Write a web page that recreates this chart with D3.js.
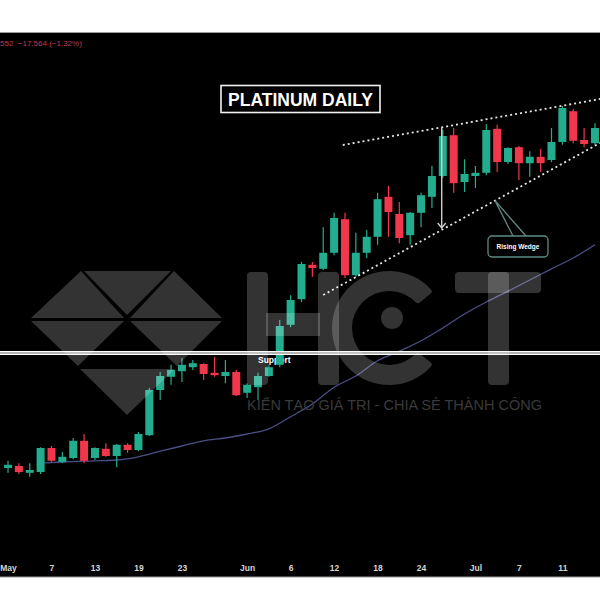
<!DOCTYPE html>
<html><head><meta charset="utf-8">
<script src="https://cdn.jsdelivr.net/npm/d3@7"></script>
<style>html,body{margin:0;padding:0;background:#fff;} svg{display:block;}</style>
</head><body>
<svg id="c" width="600" height="600"></svg>
<script>
// ---- data (platinum daily, May–Jul 2025) ----
const opens  = [975,977.5,969,970,1000,982.5,987.5,1009,987.5,999,990,1004,997.5,1016,1072.5,1089,1096,1101,1105,1094,1090,1095,1069,1076,1090,1104,1154,1186,1229,1224,1244,1286,1216,1244,1264,1314,1292.5,1266,1294,1314,1340,1391,1332.5,1340,1344,1399,1357.5,1376,1356,1364,1360,1382.5,1421,1385,1381];
const highs  = [984,981,981,1001,1002.5,995,1012.5,1017.5,1001,1006,1005,1006,1020,1075,1095,1104,1112.5,1110,1106,1114,1110,1097.5,1081,1094,1104,1160,1191,1232.5,1232.5,1276,1294,1294,1269,1272.5,1319,1327.5,1307.5,1295,1319,1352.5,1397.5,1400,1361,1352.5,1405,1404,1376,1377.5,1371,1374,1400,1427.5,1424,1400,1406];
const lows   = [969,967.5,964,967.5,982.5,981,986,981,985,989,976,994,996,1015,1060,1079,1082.5,1097.5,1085,1089,1081,1065,1062.5,1060,1089,1101,1151,1182.5,1214,1222.5,1241,1212.5,1214,1237.5,1254,1264,1256,1254,1276,1300,1337.5,1319,1320,1325,1341,1345,1355,1335,1339,1345,1357.5,1379,1381,1376,1379];
const closes = [979,970,972.5,1000,984,989,1009,984,1000,990,1004,997.5,1017.5,1072.5,1090,1097.5,1104,1106,1092.5,1091,1095,1066,1079,1090,1101,1152.5,1185,1230,1225,1244,1287.5,1216,1244,1264,1311,1295,1262.5,1294,1316,1340,1390,1331,1342.5,1344,1397.5,1357.5,1375,1356,1364,1356,1382.5,1425,1384,1380,1400];
const tickIdx    = [0,4,8,12,16,22,26,30,34,38,43,47,51];
const tickLabels = ["May","7","13","19","23","Jun","6","12","18","24","Jul","7","11"];
const maIdx  = [3,5,8,10,12,14,16,18,20,22,24,26,28,30,32,34,36,38,40,42,44,46,48,50,52,54];
const maVals = [981,982.5,984,985,989,996,1002.5,1009,1012.5,1017.5,1024,1039,1055,1076,1090,1109,1121,1134,1150,1167.5,1182.5,1196,1210,1224,1237.5,1254];
const supportLevel = 1118.75;
const wedgeUpper = [[30.8,1378.75],[54.46,1436.25]];
const wedgeLower = [[29,1191.25],[54.46,1381.25]];
const arrowBar = 39.9, arrowTop = 1401, arrowBottom = 1275;
const title = "PLATINUM DAILY";
const headerText = "552  \u221217.564 (\u22121.32%)";
const wmTag = "KIẾN TẠO GIÁ TRỊ - CHIA SẺ THÀNH CÔNG";

// ---- layout ----
const W = 600, plotTop = 32.5, plotBottom = 577;
const svg = d3.select("#c");
const x = d3.scaleLinear().domain([0, 54]).range([8, 8 + 10.87 * 54]);
const y = d3.scaleLinear().domain([837.5, 1518.75]).range([578, 33]);
const green = "#22ad8f", red = "#f0374b";

svg.append("defs").append("clipPath").attr("id","clip")
  .append("rect").attr("x",0).attr("y",plotTop).attr("width",W).attr("height",plotBottom-plotTop);
svg.append("rect").attr("x",0).attr("y",plotTop).attr("width",W).attr("height",plotBottom-plotTop).attr("fill","#000");
svg.append("line").attr("x1",0).attr("x2",W).attr("y1",plotTop).attr("y2",plotTop).attr("stroke","#9a9a9a").attr("stroke-width",1);
svg.append("line").attr("x1",0).attr("x2",W).attr("y1",plotBottom).attr("y2",plotBottom).attr("stroke","#9a9a9a").attr("stroke-width",1.2);

const g = svg.append("g").attr("clip-path","url(#clip)");

// header
g.append("text").attr("x",0).attr("y",46).attr("fill","#c23a55").attr("font-size",8)
  .attr("font-family","Liberation Sans, Arial, sans-serif").attr("xml:space","preserve").text(headerText);

// support label (beneath candles)
g.append("text").attr("x",258).attr("y",363).attr("fill","#fff").attr("font-size",8.5).attr("font-weight","bold")
  .attr("font-family","Liberation Sans, Arial, sans-serif").text("Support");

// moving average
const maData = maIdx.map((d,i)=>[d, maVals[i]]);
g.append("path").datum(maData)
  .attr("d", d3.line().x(d=>x(d[0])).y(d=>y(d[1])).curve(d3.curveMonotoneX))
  .attr("fill","none").attr("stroke","#4a4f86").attr("stroke-width",1.3);

// candles
const candles = opens.map((o,i)=>({i, o, h:highs[i], l:lows[i], c:closes[i]}));
const cg = g.append("g");
cg.selectAll("line.w").data(candles).join("line")
  .attr("x1",d=>x(d.i)).attr("x2",d=>x(d.i)).attr("y1",d=>y(d.h)).attr("y2",d=>y(d.l))
  .attr("stroke",d=>d.c>=d.o?green:red).attr("stroke-width",1.2);
cg.selectAll("rect.b").data(candles).join("rect")
  .attr("x",d=>x(d.i)-4).attr("width",8)
  .attr("y",d=>y(Math.max(d.o,d.c)))
  .attr("height",d=>Math.max(1.5, Math.abs(y(d.o)-y(d.c))))
  .attr("fill",d=>d.c>=d.o?green:red);

// support line
const sy = y(supportLevel);
g.append("line").attr("x1",0).attr("x2",W).attr("y1",sy).attr("y2",sy).attr("stroke","#fff").attr("stroke-width",4);
g.append("line").attr("x1",0).attr("x2",W).attr("y1",sy).attr("y2",sy).attr("stroke","#666").attr("stroke-width",1);

// wedge lines
[wedgeUpper, wedgeLower].forEach(seg=>{
  g.append("line").attr("x1",x(seg[0][0])).attr("y1",y(seg[0][1])).attr("x2",x(seg[1][0])).attr("y2",y(seg[1][1]))
    .attr("stroke","#e6e6e6").attr("stroke-width",1.8).attr("stroke-dasharray","2,3");
});

// arrow
const ax = x(arrowBar), ay1 = y(arrowTop), ay2 = y(arrowBottom);
g.append("line").attr("x1",ax).attr("x2",ax).attr("y1",ay1).attr("y2",ay2).attr("stroke","#cfcfcf").attr("stroke-width",1.4);
g.append("path").attr("d",`M${ax-4},${ay2-5} L${ax},${ay2} L${ax+4},${ay2-5}`).attr("fill","none").attr("stroke","#cfcfcf").attr("stroke-width",1.4);

// rising wedge callout
const t0 = x(wedgeLower[0][0]), t1 = x(wedgeLower[1][0]);
const tipX = 495, tipY = y(wedgeLower[0][1]) + (y(wedgeLower[1][1]) - y(wedgeLower[0][1])) * (tipX - t0) / (t1 - t0);
const cc = "#5f8a84";
g.append("path").attr("d",`M${tipX},${tipY} L513,236 M${tipX},${tipY} L526,236`).attr("stroke",cc).attr("stroke-width",1.3).attr("fill","none");
g.append("rect").attr("x",488).attr("y",236).attr("width",60).attr("height",21).attr("rx",4)
  .attr("fill","#000").attr("stroke",cc).attr("stroke-width",1.3);
g.append("text").attr("x",518).attr("y",249).attr("text-anchor","middle").attr("fill","#fff").attr("font-size",6.5)
  .attr("font-weight","bold").attr("font-family","Liberation Sans, Arial, sans-serif").text("Rising Wedge");

// title
g.append("rect").attr("x",221).attr("y",85.5).attr("width",159).attr("height",27).attr("fill","#000")
  .attr("stroke","#f2f2f2").attr("stroke-width",1.6);
g.append("text").attr("x",300.5).attr("y",106).attr("text-anchor","middle").attr("fill","#fff")
  .attr("font-size",17.5).attr("font-weight","bold").attr("font-family","Liberation Sans, Arial, sans-serif").text(title);

// watermark (translucent overlay)
const wm = g.append("g").attr("fill","#fff").attr("fill-opacity",0.2);
const tri = pts => "M" + pts.map(p=>p.join(",")).join("L") + "Z";
[
  [[81,271],[31,318],[124,318]],
  [[84,271],[171,271],[127,315]],
  [[174,271],[130,318],[222,318]],
  [[31,321],[124,321],[78,366]],
  [[130,321],[222,321],[177,366]],
  [[80,369],[175,369],[127,415]]
].forEach(p=>wm.append("path").attr("d",tri(p)));
// H
wm.append("rect").attr("x",247).attr("y",272).attr("width",21).attr("height",113).attr("rx",4);
wm.append("rect").attr("x",318).attr("y",272).attr("width",21).attr("height",113).attr("rx",4);
wm.append("rect").attr("x",266).attr("y",313).attr("width",54).attr("height",23);
// C with dot
const arc = d3.arc().innerRadius(37).outerRadius(57).startAngle(Math.PI*0.72).endAngle(Math.PI*2.28).cornerRadius(3);
wm.append("path").attr("d",arc()).attr("transform","translate(389,328)");
wm.append("circle").attr("cx",392).attr("cy",318).attr("r",11);
// T
wm.append("rect").attr("x",455).attr("y",272).attr("width",86).attr("height",21).attr("rx",4);
wm.append("rect").attr("x",488).attr("y",272).attr("width",21).attr("height",113).attr("rx",4);
wm.append("text").attr("x",247).attr("y",410).attr("font-size",14).attr("textLength",295).attr("lengthAdjust","spacingAndGlyphs")
  .attr("font-family","Liberation Sans, Arial, sans-serif").attr("fill-opacity",1).attr("fill","#3a3a3a").text(wmTag);

// x axis
const axis = d3.axisBottom(x).tickValues(tickIdx).tickFormat((d,i)=>tickLabels[i]).tickSize(0).tickPadding(0);
const ag = svg.append("g").attr("transform","translate(0,565)").call(axis);
ag.select(".domain").remove();
ag.selectAll("text").attr("fill","#d6d6d6").attr("font-size",8.5).attr("font-weight","bold")
  .attr("font-family","Liberation Sans, Arial, sans-serif");
</script>
</body></html>
